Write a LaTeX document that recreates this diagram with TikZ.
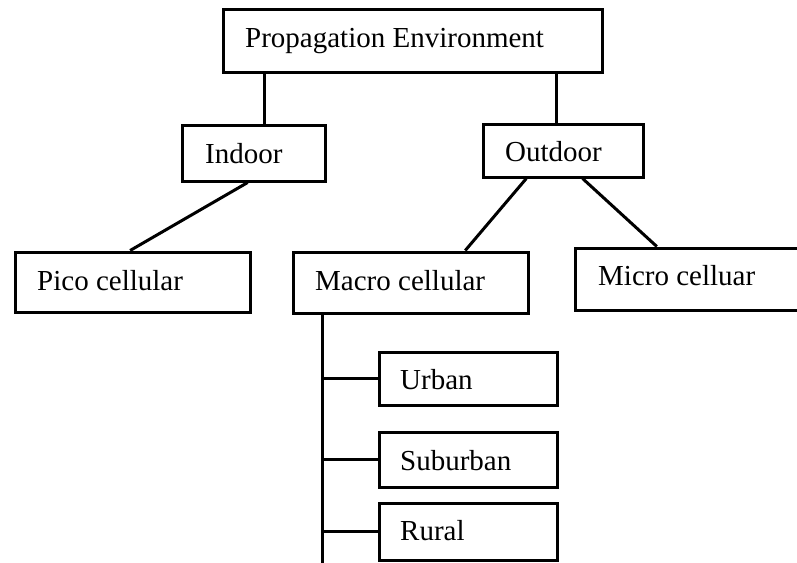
\documentclass[tikz,border=0pt]{standalone}
\usepackage{fontspec}
\setmainfont{Liberation Serif}
\usetikzlibrary{calc}
\begin{document}
\begin{tikzpicture}[x=1pt,y=-1pt,
  tbox/.style={draw, line width=3pt, rectangle, inner sep=0pt, fill=white},
  lbl/.style={anchor=base west, inner sep=0pt, font=\fontsize{29}{34}\selectfont},
  wire/.style={line width=3pt}]
\useasboundingbox (0,0) rectangle (797,562);
\clip (0,0) rectangle (797,562);

% boxes
\node[tbox, minimum width=379pt, minimum height=63pt] (prop)  at (412.5,40.5) {};
\node[tbox, minimum width=143pt, minimum height=56pt] (ind)   at (253.5,153) {};
\node[tbox, minimum width=160pt, minimum height=53pt] (out)   at (563,150.5) {};
\node[tbox, minimum width=235pt, minimum height=60pt] (pico)  at (132.5,282) {};
\node[tbox, minimum width=235pt, minimum height=61pt] (macro) at (410.5,282.5) {};
\node[tbox, minimum width=235pt, minimum height=62pt] (micro) at (692.5,279) {};
\node[tbox, minimum width=178pt, minimum height=53pt] (urb)   at (468,378.5) {};
\node[tbox, minimum width=178pt, minimum height=55pt] (sub)   at (468,459.5) {};
\node[tbox, minimum width=178pt, minimum height=57pt] (rur)   at (468,531.5) {};

% labels
\node[lbl] (tprop)  at (245,47)  {Propagation Environment};
\node[lbl] (tind)   at (205,163) {Indoor};
\node[lbl] (tout)   at (505,161) {Outdoor};
\node[lbl] (tpico)  at (37,290)  {Pico cellular};
\node[lbl] (tmacro) at (315,290) {Macro cellular};
\node[lbl] (tmicro) at (598,285) {Micro celluar};
\node[lbl] (turb)   at (400,389) {Urban};
\node[lbl] (tsub)   at (400,470) {Suburban};
\node[lbl] (trur)   at (400,540) {Rural};

% attachment points
\coordinate (a1) at ($(ind.north west)!0.573!(ind.north east)$);
\coordinate (a2) at ($(out.north west)!0.4625!(out.north east)$);
\coordinate (b1) at ($(ind.south west)!0.46!(ind.south east)$);
\coordinate (b2) at ($(pico.north west)!0.49!(pico.north east)$);
\coordinate (c1) at ($(out.south west)!0.275!(out.south east)$);
\coordinate (c2) at ($(macro.north west)!0.73!(macro.north east)$);
\coordinate (d1) at ($(out.south west)!0.62!(out.south east)$);
\coordinate (d2) at ($(micro.north west)!0.35!(micro.north east)$);
\coordinate (m1) at ($(macro.south west)!0.13!(macro.south east)$);
\coordinate (mend) at (m1 |- 0,566);

% connectors
\draw[wire] (prop.south -| a1) -- (a1);
\draw[wire] (prop.south -| a2) -- (a2);
\draw[wire] (b1) -- (b2);
\draw[wire] (c1) -- (c2);
\draw[wire] (d1) -- (d2);
\draw[wire] (m1) -- (mend);
\draw[wire] (urb.west -| m1) -- (urb.west);
\draw[wire] (sub.west -| m1) -- (sub.west);
\draw[wire] (rur.west -| m1) -- (rur.west);
\end{tikzpicture}
\end{document}
